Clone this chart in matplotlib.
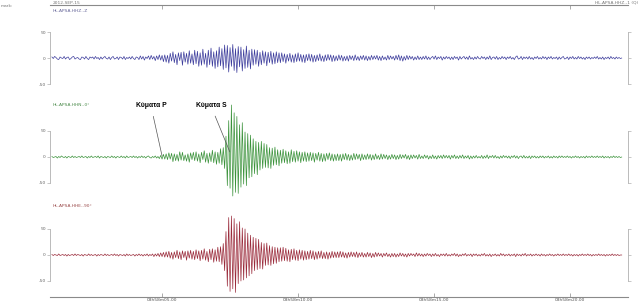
import numpy as np
import matplotlib.pyplot as plt

# amplitudes, one sample every 0.05 s
z_trace = [
    2, -1, 3, 1, -2, -3, 2, 0, -1, 3, -2, 1, 2, -3, -1, 2, 3, -2, 0, 1, -2,
    -3, 2, 1, -2, 3, -1, -3, 2, 0, 2, -2, 3, -1, 1, -3, 2, -2, 1, 3, -1, -2,
    2, -3, 1, 3, -2, -1, 2, -3, 2, 1, -2, 3, -3, 1, -1, 2, -2, 3, -1, -3, 2,
    1, -3, 4, -2, 3, -4, 2, -1, 4, -3, 5, -2, 3, -5, 4, -3, 6, -4, 5, -7, 6,
    -8, 5, -10, 9, -6, 12, -9, 7, -13, 10, -5, 11, -14, 12, -8, 9, -12, 14, -10, 8, -13,
    15, -11, 13, -16, 10, -14, 17, -12, 9, -18, 15, -13, 19, -16, 12, -20, 14, -17, 21, -15, 18,
    -22, 25, -19, 24, -27, 20, -16, 26, -24, 18, -28, 22, -17, 21, -25, 16, -20, 23, -18, 15, -21,
    17, -14, 16, -12, 15, -16, 11, -13, 14, -10, 12, -15, 11, -9, 13, -12, 10, -11, 12, -9, 10,
    -9, 10, -7, 8, -10, 7, -6, 9, -8, 6, -9, 8, -7, 10, -6, 7, -8, 6, -9, 7, -5,
    8, -6, 7, -8, 5, -7, 6, -5, 8, -6, 4, -7, 6, -5, 7, -4, 6, -7, 5, -6, 4,
    -5, 6, -4, 5, -6, 3, -5, 4, -6, 5, -3, 4, -5, 6, -4, 3, -5, 4, -3, 5, -4,
    4, -5, 3, -4, 5, -3, 4, -2, 5, -4, 3, -5, 4, -3, 2, -4, 5, -3, 4, -2, 3,
    -4, 5, -3, 6, -5, 4, -6, 3, -4, 5, -3, 4, -2, 3, -4, 2, -3, 4, -3, 2, -3,
    3, -2, 4, -3, 2, -3, 1, 3, -2, 4, -3, 2, -1, 3, -4, 2, -2, 3, -1, 2, -3,
    2, -3, 3, -1, 2, -4, 3, -2, 1, 3, -2, 2, -3, 4, -2, 1, -3, 2, -2, 3, -1,
    -2, 3, -1, 2, -3, 2, -2, 4, -3, 1, 2, -2, 3, -3, 1, -2, 3, -1, 2, -3, 2,
    -1, 3, -2, 1, -3, 2, 4, -2, -1, 3, -3, 2, -1, 2, -2, 3, -2, 1, -3, 2, -1,
    3, -2, 1, -2, 3, -1, 2, -3, 2, -1, 3, -2, 1, -1, 2, -3, 2, -2, 1, 3, -2,
    -1, 2, -3, 2, -1, 3, -2, 1, -2, 3, -1, 2, -2, 1, -3, 2, -1, 2, -2, 1, -1,
    2, -1, 3, -2, 1, -2, 2, -3, 1, -1, 2, -2, 3, -1, 1, -2, 2, -1, 1, -1, 0,
]
n_trace = [
    1, -1, 0, 1, -2, 1, -1, 2, 0, -1, 1, -2, 1, 0, -1, 2, -1, 1, -1, 0, 1,
    -1, 2, -1, 0, 1, -2, 1, -1, 2, -1, 0, 1, -1, 2, -2, 1, 0, -1, 1, -2, 1,
    0, -1, 2, -1, 1, -2, 1, 0, -1, 2, -1, 1, -2, 2, -1, 0, 1, -1, 2, -1, 1,
    -2, 1, -1, 2, -1, 1, -2, 1, 2, -1, -2, 1, -1, 2, -2, 1, -3, 3, -4, 5, -4,
    6, -5, 8, -4, 7, -9, 6, -7, 5, -8, 10, -6, 9, -7, 4, -8, 6, -10, 8, -5, 9,
    -7, 10, -8, 6, -11, 9, -5, 12, -10, 7, -12, 8, -9, 13, -11, 10, -14, 9, -12, 16, -15,
    18, -22, 40, -55, 70, -60, 100, -75, 85, -68, 78, -70, 62, -58, 66, -52, 48, -55, 45, -40, 42,
    -38, 35, -32, 30, -34, 28, -25, 30, -22, 26, -20, 24, -21, 18, -22, 17, -16, 19, -15, 14, -17,
    13, -12, 15, -11, 12, -13, 10, -12, 14, -9, 11, -10, 12, -8, 10, -11, 9, -8, 10, -9, 8,
    -8, 9, -7, 8, -10, 7, -6, 9, -8, 7, -9, 6, -8, 7, -5, 8, -7, 6, -8, 5, -7,
    6, -7, 5, -8, 6, -5, 7, -6, 5, -7, 4, -6, 7, -5, 6, -4, 5, -7, 6, -5, 4,
    -5, 6, -4, 5, -6, 4, -5, 6, -4, 3, -5, 6, -4, 5, -3, 4, -5, 3, -4, 5, -3,
    4, -5, 3, -4, 5, -3, 4, -2, 5, -4, 3, -5, 4, -3, 4, -2, 3, -4, 5, -3, 2,
    -3, 4, -2, 3, -4, 2, -3, 4, -3, 2, -4, 3, -2, 3, -3, 4, -2, 3, -2, 3, -4,
    3, -2, 4, -3, 2, -3, 3, -2, 4, -3, 2, -2, 3, -4, 2, -3, 2, -2, 3, -2, 1,
    -2, 3, -3, 2, -2, 4, -3, 2, -1, 3, -2, 3, -2, 1, -3, 2, -2, 3, -1, 2, -2,
    2, -3, 2, -1, 3, -2, 2, -3, 1, 2, -2, 3, -2, 1, -2, 2, -3, 2, -1, 2, -2,
    1, -2, 2, -1, 2, -2, 1, -1, 2, -2, 1, -2, 2, -1, 1, -2, 2, -1, 2, -1, 1,
    -1, 2, -1, 1, -2, 1, -1, 2, -1, 1, -2, 1, -1, 1, -2, 2, -1, 1, -1, 2, -1,
    1, -1, 2, -1, 1, -1, 2, -2, 1, -1, 1, -2, 1, -1, 2, -1, 1, -1, 1, -1, 0,
]
e_trace = [
    1, -1, 1, 0, -1, 2, -1, 0, 1, -1, 1, -2, 1, -1, 0, 1, -1, 2, -1, 1, 0,
    -1, 1, -2, 1, 0, -1, 2, -1, 1, -1, 0, 1, -2, 1, -1, 1, 0, -1, 2, -1, 1,
    -1, 0, 1, -1, 2, -1, 1, -2, 1, 0, -1, 1, -2, 2, -1, 1, -1, 0, 1, -2, 1,
    -1, 2, -1, 1, -2, 1, -1, 2, -2, 1, -1, 2, -3, 2, -2, 3, -3, 4, -3, 5, -4,
    6, -4, 7, -6, 5, -8, 6, -5, 9, -7, 6, -9, 8, -5, 7, -10, 8, -6, 9, -8, 7,
    -9, 10, -7, 8, -11, 9, -8, 12, -10, 7, -13, 11, -9, 12, -14, 10, -12, 15, -13, 16, -18,
    22, -30, 45, -60, 72, -70, 75, -65, 70, -72, 60, -55, 64, -50, 52, -48, 50, -44, 42, -40, 38,
    -36, 34, -30, 32, -28, 30, -26, 24, -27, 22, -20, 23, -19, 18, -20, 16, -17, 15, -16, 14, -13,
    14, -12, 15, -11, 13, -12, 10, -13, 11, -9, 12, -10, 9, -11, 10, -8, 9, -10, 8, -9, 7,
    -8, 9, -7, 8, -9, 6, -8, 7, -6, 8, -7, 5, -7, 6, -8, 5, -6, 7, -5, 6, -5,
    6, -5, 7, -4, 6, -5, 4, -6, 5, -4, 6, -3, 5, -4, 6, -5, 4, -3, 5, -4, 3,
    -4, 5, -3, 4, -5, 3, -4, 5, -3, 4, -2, 3, -4, 3, -2, 4, -3, 2, -4, 3, -3,
    3, -4, 2, -3, 4, -2, 3, -3, 2, -4, 3, -2, 3, -1, 2, -3, 4, -2, 3, -2, 2,
    -3, 2, -2, 3, -1, 2, -3, 2, -2, 3, -2, 1, -3, 2, -1, 2, -2, 3, -2, 1, -2,
    2, -1, 3, -2, 2, -3, 1, -2, 2, -1, 3, -2, 1, -1, 2, -3, 2, -1, 2, -2, 1,
    -2, 2, -1, 3, -2, 1, -2, 2, -3, 1, -1, 2, -2, 1, -2, 3, -1, 2, -2, 1, -1,
    2, -2, 1, -1, 2, -3, 2, -1, 1, -2, 2, -1, 3, -2, 1, -1, 2, -2, 1, -1, 2,
    -1, 1, -2, 2, -1, 1, -2, 1, -1, 2, -1, 1, -2, 1, -1, 2, -1, 1, -1, 2, -1,
    1, -1, 2, -1, 1, -2, 1, -1, 1, -2, 1, -1, 2, -1, 1, -1, 2, -1, 1, -2, 1,
    -1, 1, -1, 2, -1, 1, -1, 1, -2, 1, -1, 1, -1, 2, -1, 1, -1, 1, -1, 0, 0,
]
channel_names = ["HL.APSA.HHZ.-Z", "HL.APSA.HHN.-0°", "HL.APSA.HHE.-90°"]
tick_times = [4.05, 9.05, 14.05, 19.05]
tick_labels = ["03h58m05.00", "03h58m10.00", "03h58m15.00", "03h58m20.00"]
p_time, s_time = 4.05, 6.54

W, H = 640, 304
L, R = 50, 628
xlim = (-0.07, 21.18)
t = np.arange(len(z_trace)) * 0.05
axis_grey = "#8a8a8a"

fig = plt.figure(figsize=(6.4, 3.04), dpi=100)

# outer frame: top and bottom lines with time ticks
frame = fig.add_axes([L / W, (H - 297) / H, (R - L) / W, (297 - 5) / H])
frame.set_xlim(*xlim)
frame.set_ylim(0, 1)
for s in ["left", "right"]:
    frame.spines[s].set_visible(False)
for s in ["top", "bottom"]:
    frame.spines[s].set_color(axis_grey)
    frame.spines[s].set_linewidth(0.8)
frame.set_yticks([])
frame.set_xticks(tick_times)
frame.set_xticklabels(tick_labels)
frame.tick_params(axis="x", direction="in", length=3, width=0.5, colors=axis_grey,
                  labelsize=3.2, pad=1, top=True, labelcolor="#555555")

zeros_px = [58, 157, 255]
colors = ["#3c3c9c", "#3a923a", "#9a2a3a"]
label_colors = ["#666699", "#4a8a4a", "#9a4a4a"]
label_y = [11, 105, 206]
panels = []
for trace, z0, c in zip([z_trace, n_trace, e_trace], zeros_px, colors):
    half = 48
    ax = fig.add_axes([L / W, (H - z0 - half) / H, (R - L) / W, 2 * half / H])
    ax.patch.set_alpha(0)
    ax.set_xlim(*xlim)
    ax.set_ylim(-half / 0.52, half / 0.52)
    ax.plot(t, trace, color=c, lw=0.5, clip_on=False)
    for s in ["top", "bottom"]:
        ax.spines[s].set_visible(False)
    for s in ["left", "right"]:
        ax.spines[s].set_color("#b0b0b0")
        ax.spines[s].set_linewidth(0.6)
        ax.spines[s].set_bounds(-50, 50)
    ax.set_xticks([])
    ax.set_yticks([50, 0, -50])
    ax.set_yticklabels(["50", "0", "-50"])
    ax.tick_params(axis="y", length=2, width=0.5, colors="#b0b0b0", labelsize=3.2,
                   labelcolor="#666666", pad=1, right=True)
    panels.append(ax)

for name, y, c in zip(channel_names, label_y, label_colors):
    fig.text(53 / W, 1 - y / H, name, fontsize=3.2, color=c, va="center")

fig.text(1 / W, 1 - 6 / H, "mark:", fontsize=3.2, color="#777777", va="center")
fig.text(53 / W, 1 - 3 / H, "2012-SEP-15", fontsize=3.2, color="#777777", va="center")
fig.text(638 / W, 1 - 3 / H, "HL.APSA.HHZ.-1 (Q)", fontsize=3.2, color="#777777",
         va="center", ha="right")

mid = panels[1]
arrow = dict(arrowstyle="-", color="#555555", lw=0.5, shrinkA=3, shrinkB=0)
mid.annotate("Κύματα P", xy=(p_time, 2), xycoords="data",
             xytext=(151 / W, 1 - 106 / H), textcoords="figure fraction",
             fontsize=4.9, fontweight="bold", family="Liberation Sans",
             ha="center", va="center", arrowprops=arrow)
mid.annotate("Κύματα S", xy=(s_time, 10), xycoords="data",
             xytext=(211 / W, 1 - 106 / H), textcoords="figure fraction",
             fontsize=4.9, fontweight="bold", family="Liberation Sans",
             ha="center", va="center", arrowprops=arrow)

fig.savefig("out.png", dpi=100)
